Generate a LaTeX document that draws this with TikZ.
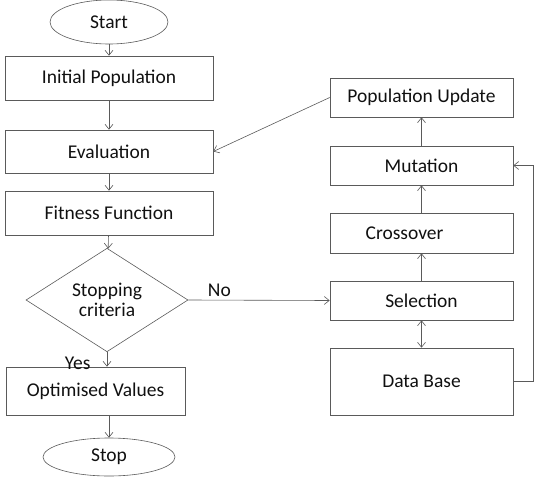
\documentclass[tikz,border=0pt]{standalone}
\usepackage{fontspec}
\setmainfont{Carlito}
\usepackage{xcolor}
\usepackage{tikz}
\usetikzlibrary{arrows.meta, positioning, shapes.geometric}
\definecolor{lnegray}{HTML}{5A5A5A}
\definecolor{txtgray}{HTML}{101010}
\tikzset{
  stepnode/.style={rectangle,draw=lnegray,semithick,inner sep=2pt,font=\fontsize{19.5}{22}\selectfont,text=txtgray},
  termnode/.style={stepnode,ellipse},
  decnode/.style={stepnode,diamond,align=center,inner sep=0pt,font=\fontsize{19.5}{20}\selectfont},
  flowedge/.style={-{Straight Barb[length=5pt,width=8pt]},semithick,lnegray},
  bothedge/.style={{Straight Barb[length=5pt,width=8pt]}-{Straight Barb[length=5pt,width=8pt]},semithick,lnegray},
  edgelbl/.style={font=\fontsize{19.5}{22}\selectfont,text=txtgray},
}

\begin{document}
\begin{tikzpicture}[x=1pt,y=-1pt]
  \useasboundingbox (0,0) rectangle (540,476);
  % left column
  \node[termnode,minimum width=118pt,minimum height=44pt] (nStart) at (109,22) {Start};
  \node[stepnode,minimum width=208pt,minimum height=44pt] (nInit) at (109,78) {Initial Population};
  \node[stepnode,minimum width=208pt,minimum height=43pt] (nEval) at (109,151.5) {Evaluation};
  \node[stepnode,minimum width=208pt,minimum height=44pt] (nFit) at (109,213) {Fitness Function};
  \node[decnode,minimum width=162pt,minimum height=94pt] (nCrit) at (107,300) {Stopping\\criteria};
  \node[stepnode,minimum width=179pt,minimum height=48pt] (nOpt) at (95.5,391) {Optimised Values};
  \node[termnode,minimum width=132pt,minimum height=38pt] (nEnd) at (109,457) {Stop};
  % right column
  \node[stepnode,minimum width=183pt,minimum height=39pt] (nUpd) at (421.5,97.5) {Population Update};
  \node[stepnode,minimum width=183pt,minimum height=39pt] (nMut) at (421.5,165.5) {Mutation};
  \node[stepnode,minimum width=183pt,minimum height=40pt] (nCross) at (421.5,233) {Crossover\hspace*{34pt}};
  \node[stepnode,minimum width=183pt,minimum height=39pt] (nSel) at (421.5,300.5) {Selection};
  \node[stepnode,minimum width=183pt,minimum height=67pt] (nDB) at (421.5,381.5) {Data Base};
  % connectors
  \draw[flowedge] (nStart) -- (nInit);
  \draw[flowedge] (nInit) -- (nEval);
  \draw[flowedge] (nEval) -- (nFit);
  \draw[flowedge] (nFit) -- (nCrit);
  \draw[flowedge] (nCrit.east) -- node[edgelbl,above,pos=0.22] {No} (nSel.west);
  \draw[flowedge] (nCrit.south) -- node[edgelbl,left=13pt,pos=0.75] {Yes} (nCrit.south |- nOpt.north);
  \draw[flowedge] (nOpt.south -| nEnd.north) -- (nEnd.north);
  \draw[bothedge] (nSel) -- (nDB);
  \draw[flowedge] (nSel) -- (nCross);
  \draw[flowedge] (nCross) -- (nMut);
  \draw[flowedge] (nMut) -- (nUpd);
  \draw[flowedge] (nUpd.west) -- (nEval.east);
  \draw[flowedge] (nDB.east) -- ++(20,0) |- (nMut.east);
\end{tikzpicture}
\end{document}
